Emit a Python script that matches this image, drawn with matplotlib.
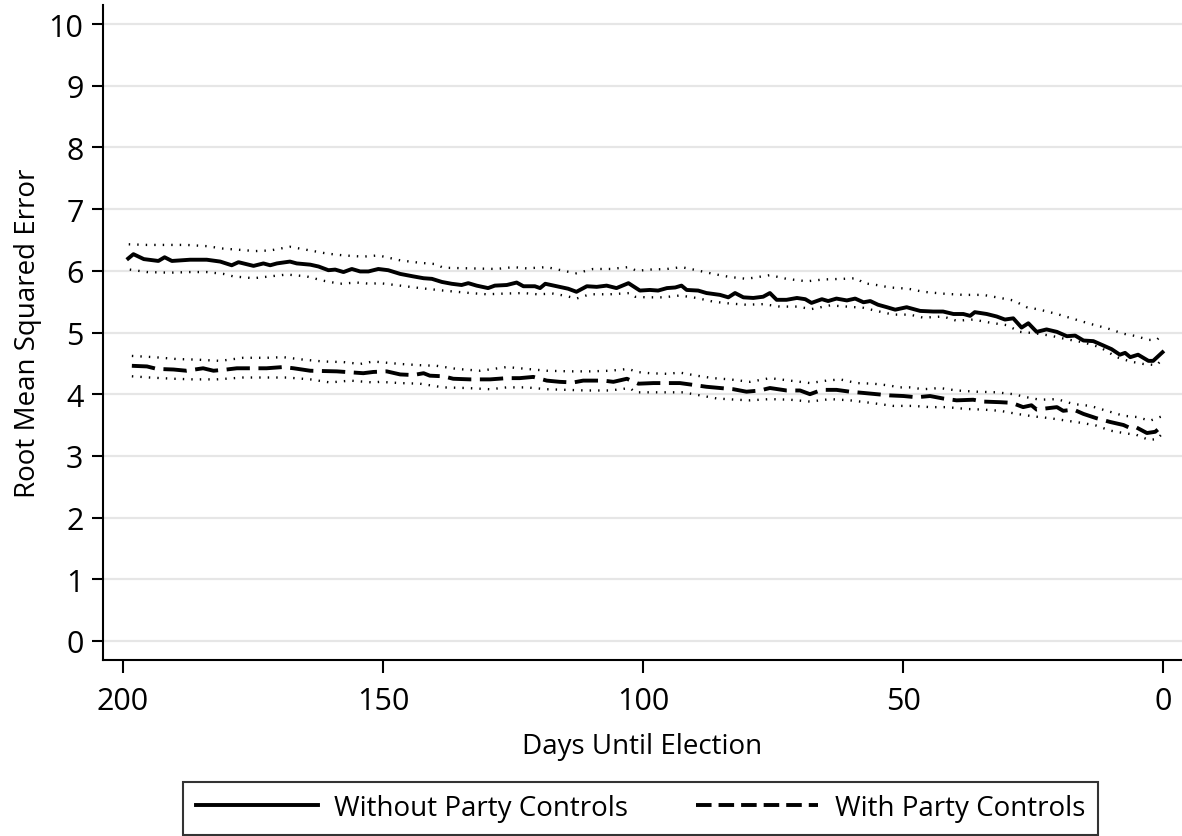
import matplotlib
matplotlib.use("Agg")
import matplotlib.pyplot as plt
from matplotlib.lines import Line2D

# ---- data ----
days_wo = [199, 198, 196, 193.2, 192, 190.6, 187.1, 183.9, 181.3, 179.1, 177.8, 174.9, 173, 171.7,
           170.4, 167.9, 166.6, 164, 162.4, 160.5, 159.2, 157.6, 156, 154.4, 152.8, 150.9, 149,
           146.7, 144.2, 142.2, 140.6, 138.7, 136.8, 134.9, 133.6, 132, 129.8, 128.5, 126.2, 124.3,
           123, 120.8, 119.8, 118.8, 116.6, 114.4, 112.8, 110.8, 108.9, 107, 105.1, 102.8, 100.6,
           98.7, 97.1, 95.4, 93.8, 92.6, 91.6, 89.4, 87.8, 85.2, 83.6, 82.3, 80.7, 78.8, 76.9,
           75.6, 74.3, 72.4, 70.4, 68.8, 67.6, 65.6, 64.4, 62.8, 60.8, 59.2, 57.6, 56.3, 54.8,
           53.1, 51.5, 49.3, 46.7, 44.2, 42.3, 40.3, 38.4, 37.1, 36.2, 33.9, 32, 30.4, 28.8, 27.2,
           25.9, 24.3, 22.4, 20.4, 18.5, 16.9, 15.3, 13.4, 11.5, 9.9, 8.3, 7.3, 6.3, 4.8, 2.8,
           1.9, 0.1]
rmse_wo = [6.20, 6.27, 6.19, 6.16, 6.22, 6.16, 6.18, 6.18, 6.15, 6.09, 6.14, 6.08, 6.12, 6.09,
           6.12, 6.15, 6.12, 6.10, 6.07, 6.01, 6.02, 5.98, 6.03, 5.99, 5.99, 6.03, 6.01,
           5.95, 5.91, 5.88, 5.87, 5.82, 5.79, 5.77, 5.80, 5.76, 5.72, 5.76, 5.77, 5.81,
           5.75, 5.75, 5.72, 5.79, 5.75, 5.71, 5.66, 5.75, 5.74, 5.76, 5.72, 5.80, 5.68,
           5.69, 5.68, 5.72, 5.73, 5.76, 5.69, 5.68, 5.64, 5.61, 5.57, 5.64, 5.57, 5.56, 5.58,
           5.64, 5.53, 5.53, 5.56, 5.54, 5.48, 5.54, 5.51, 5.55, 5.52, 5.55, 5.49, 5.51, 5.45,
           5.41, 5.37, 5.41, 5.35, 5.34, 5.34, 5.30, 5.30, 5.27, 5.33, 5.30, 5.26, 5.21, 5.23, 5.08,
           5.15, 5.01, 5.05, 5.01, 4.94, 4.95, 4.87, 4.86, 4.79, 4.73, 4.64, 4.67, 4.60, 4.64, 4.54,
           4.54, 4.68]

days_wo_hi = [198.9, 195.4, 192, 187.8, 183.9, 180.7, 177.5, 174.6, 171.7, 167.9, 164, 160.8,
              157.6, 153.8, 150.9, 146.7, 142.9, 140, 138.4, 133.3, 128.2, 124.9, 122.4, 118.5,
              114.7, 112.8, 109.6, 106.3, 102.8, 101.2, 98.7, 95.4, 92.6, 89.7, 86.5, 83.3, 80.1,
              75.6, 72.4, 68.5, 65.3, 61.5, 58.9, 57.6, 55.1, 52.5, 49, 46.1, 42.3, 38.4, 34.6,
              31.3, 28.8, 26.2, 23.7, 20.4, 17.2, 14, 10.8, 7.6, 5.1, 2.8, 1.2, 0.25]
wo_hi = [6.43, 6.42, 6.42, 6.42, 6.40, 6.36, 6.34, 6.32, 6.33, 6.39, 6.33, 6.28,
         6.25, 6.23, 6.25, 6.17, 6.13, 6.11, 6.05, 6.04, 6.03, 6.06, 6.04, 6.06,
         5.99, 5.96, 6.03, 6.03, 6.06, 6.00, 6.02, 6.03, 6.06, 6.01, 5.95, 5.90, 5.87,
         5.93, 5.87, 5.83, 5.86, 5.87, 5.88, 5.80, 5.77, 5.73, 5.71, 5.66, 5.63, 5.61, 5.61,
         5.56, 5.52, 5.41, 5.37, 5.30, 5.22, 5.14, 5.07, 4.98, 4.94, 4.88, 4.88, 4.96]

days_wo_lo = [198.7, 195.4, 191, 187.1, 183.9, 180.7, 178.8, 174.9, 171.7, 168.5, 164.7, 161.5,
              158.3, 155.1, 152.5, 150.6, 146.7, 142.9, 138.4, 133.3, 130.1, 126.9, 123, 120.4,
              117.2, 114.7, 112.8, 110.2, 106.3, 102.5, 101.5, 99.3, 96.1, 92.9, 89.7, 86.5,
              83.3, 80.1, 76.9, 73.7, 70.4, 67.6, 64, 60.8, 57.6, 55.1, 51.9, 48.7, 46.1, 42.3,
              39.7, 36.5, 33.3, 30.1, 27.5, 24.9, 21.7, 18.5, 15.3, 12.1, 8.9, 6.3, 3.8, 1.2, 0.25]
wo_lo = [6.02, 5.98, 5.97, 5.98, 5.98, 5.95, 5.91, 5.88, 5.91, 5.94, 5.91, 5.84,
         5.79, 5.81, 5.79, 5.80, 5.76, 5.72, 5.68, 5.64, 5.62, 5.63, 5.64, 5.62,
         5.63, 5.59, 5.55, 5.62, 5.62, 5.64, 5.58, 5.57, 5.57, 5.60, 5.56, 5.50,
         5.47, 5.45, 5.46, 5.42, 5.42, 5.38, 5.44, 5.42, 5.40, 5.35, 5.29, 5.29, 5.24, 5.26,
         5.19, 5.21, 5.16, 5.12, 5.01, 4.99, 4.95, 4.89, 4.84, 4.76, 4.60, 4.53, 4.49, 4.47, 4.56]

days_w = [198.3, 195.4, 193.5, 190.3, 187.8, 184.6, 182.6, 180.1, 178.1, 174.9, 172.4, 169.2,
          167.2, 164, 158.9, 153.8, 151.9, 149.3, 146.7, 144.2, 142.2, 141, 138.4, 136.5, 133.3,
          129.4, 126.2, 123.7, 121.1, 118.5, 116, 113.4, 111.5, 107.6, 105.7, 103.1, 100.9, 98,
          95.4, 92.9, 90.3, 87.8, 85.2, 82.6, 80.1, 77.5, 75.6, 72.4, 69.8, 67.9, 65.6, 62.8,
          60.2, 57.6, 55.1, 52.5, 49.9, 47.4, 44.8, 42.3, 39.7, 36.5, 34.6, 31.3, 29.1, 26.9,
          25.3, 24.3, 22.4, 20.4, 19.2, 17.2, 15.3, 12.8, 10.2, 7.6, 6.3, 5.1, 3.1, 1.5, 0.1]
rmse_w = [4.46, 4.45, 4.41, 4.40, 4.38, 4.42, 4.38, 4.40, 4.42, 4.42, 4.42, 4.44,
          4.42, 4.38, 4.37, 4.34, 4.36, 4.37, 4.32, 4.31, 4.34, 4.30, 4.29, 4.25, 4.24,
          4.24, 4.26, 4.26, 4.28, 4.22, 4.20, 4.19, 4.22, 4.22, 4.20, 4.25, 4.17, 4.18,
          4.18, 4.18, 4.15, 4.12, 4.10, 4.08, 4.04, 4.06, 4.10, 4.06, 4.06, 4.00, 4.07, 4.07,
          4.04, 4.02, 4.00, 3.98, 3.97, 3.95, 3.97, 3.93, 3.90, 3.91, 3.88, 3.87, 3.86, 3.79,
          3.82, 3.75, 3.77, 3.79, 3.73, 3.75, 3.68, 3.61, 3.55, 3.50, 3.45, 3.46, 3.37, 3.39, 3.49]

days_w_hi = [198.3, 194, 189.7, 185.8, 181.3, 176.9, 172.4, 169.2, 165.3, 161.5, 157.6, 154.4,
             151.9, 146.7, 142.9, 139.7, 135.9, 131.3, 126.2, 122.4, 118.5, 114, 110.2, 106.3,
             102.8, 101.2, 98.7, 95.4, 92.9, 89.7, 86.5, 83.3, 79.4, 75.6, 71.7, 67.9, 64.7,
             62.1, 58.9, 55.7, 52.5, 50.9, 48.7, 46.1, 42.9, 39.7, 35.8, 32, 28.8, 26.2, 23.7,
             20.4, 17.2, 14, 10.8, 7.6, 5.1, 2.5, 0.25]
w_hi = [4.62, 4.60, 4.57, 4.56, 4.54, 4.59, 4.59, 4.60, 4.56, 4.53, 4.52, 4.49,
        4.53, 4.49, 4.47, 4.46, 4.41, 4.38, 4.44, 4.41, 4.38, 4.37, 4.37, 4.38,
        4.41, 4.36, 4.34, 4.33, 4.35, 4.30, 4.26, 4.24, 4.20, 4.26, 4.22, 4.18, 4.22,
        4.24, 4.18, 4.17, 4.14, 4.11, 4.11, 4.08, 4.10, 4.06, 4.04, 4.03, 4.00, 3.95, 3.91,
        3.92, 3.84, 3.81, 3.73, 3.65, 3.63, 3.57, 3.64]

days_w_lo = [198.3, 194.8, 190.3, 186.5, 182, 176.9, 172.4, 168.5, 164, 160.2, 156.3, 151.9,
             150.6, 146.7, 142.9, 138.4, 133.9, 129.4, 126.2, 122.4, 118.5, 114.7, 110.8, 106.3,
             102.5, 101.5, 98.7, 95.4, 92.3, 89, 85.8, 82, 79.4, 75.6, 71.7, 67.9, 64, 60.2,
             56.3, 51.9, 48, 44.8, 41.6, 37.8, 34.6, 31.3, 28.1, 24.9, 21.7, 18.5, 15.3, 12.8,
             10.2, 7.6, 5.1, 2.8, 1.2, 0.25]
w_lo = [4.29, 4.27, 4.25, 4.24, 4.24, 4.27, 4.27, 4.27, 4.24, 4.19, 4.22, 4.19,
        4.20, 4.18, 4.17, 4.11, 4.10, 4.08, 4.11, 4.11, 4.08, 4.07, 4.06, 4.06,
        4.10, 4.03, 4.03, 4.03, 4.03, 3.98, 3.93, 3.91, 3.90, 3.92, 3.91, 3.88, 3.92, 3.90,
        3.86, 3.81, 3.81, 3.79, 3.79, 3.76, 3.75, 3.73, 3.68, 3.64, 3.61, 3.57, 3.53, 3.49,
        3.41, 3.37, 3.34, 3.26, 3.27, 3.35]

x_ticks = [200, 150, 100, 50, 0]
y_ticks = list(range(0, 11))
label_wo = "Without Party Controls"
label_w = "With Party Controls"
x_label = "Days Until Election"
y_label = "Root Mean Squared Error"

# ---- figure ----
plt.rcParams['font.family'] = ['Open Sans', 'DejaVu Sans']
W, H = 1182, 837
fig = plt.figure(figsize=(W / 100, H / 100), dpi=100)
ax = fig.add_axes([103 / W, (H - 661) / H, (W - 103) / W, (661 - 6) / H])

fs = 22
fs_lab = 20
dot = (0, (0.6, 3.0))
ax.plot(days_wo_hi, wo_hi, color='black', lw=1.7, linestyle=dot)
ax.plot(days_wo_lo, wo_lo, color='black', lw=1.7, linestyle=dot)
ax.plot(days_w_hi, w_hi, color='black', lw=1.7, linestyle=dot)
ax.plot(days_w_lo, w_lo, color='black', lw=1.7, linestyle=dot)
ax.plot(days_wo, rmse_wo, color='black', lw=2.8, solid_joinstyle='round')
ax.plot(days_w, rmse_w, color='black', lw=2.8, dashes=(6.0, 2.2))

ax.set_xlim(203.85, -3.65)
ax.set_ylim(-0.31, 10.31)
ax.set_xticks(x_ticks)
ax.set_yticks(y_ticks)
ax.tick_params(axis='both', labelsize=fs, width=1.5, color='black')
ax.tick_params(axis='y', length=8, pad=6)
ax.tick_params(axis='x', length=9.5, pad=9)

ax.yaxis.grid(True, color='#e6e6e6', lw=1.6)
ax.set_axisbelow(True)
for s in ['top', 'right']:
    ax.spines[s].set_visible(False)
for s in ['left', 'bottom']:
    ax.spines[s].set_linewidth(1.5)

ax.set_xlabel(x_label, fontsize=fs_lab, labelpad=12)
ax.set_ylabel(y_label, fontsize=fs_lab, labelpad=5)

handles = [Line2D([], [], color='black', lw=2.8),
           Line2D([], [], color='black', lw=2.8, dashes=(4.0, 1.8))]
leg = fig.legend(handles, [label_wo, label_w], ncol=2, loc='lower left',
                 bbox_to_anchor=(183 / W, 1.5 / H, 915 / W, 57 / H), mode='expand',
                 fontsize=fs_lab, frameon=True, fancybox=False, handlelength=4.4,
                 handletextpad=0.6, columnspacing=2.0, borderaxespad=0, borderpad=0.45)
leg.get_frame().set_edgecolor('black')
leg.get_frame().set_linewidth(1.5)

fig.savefig('out.png', dpi=100)
